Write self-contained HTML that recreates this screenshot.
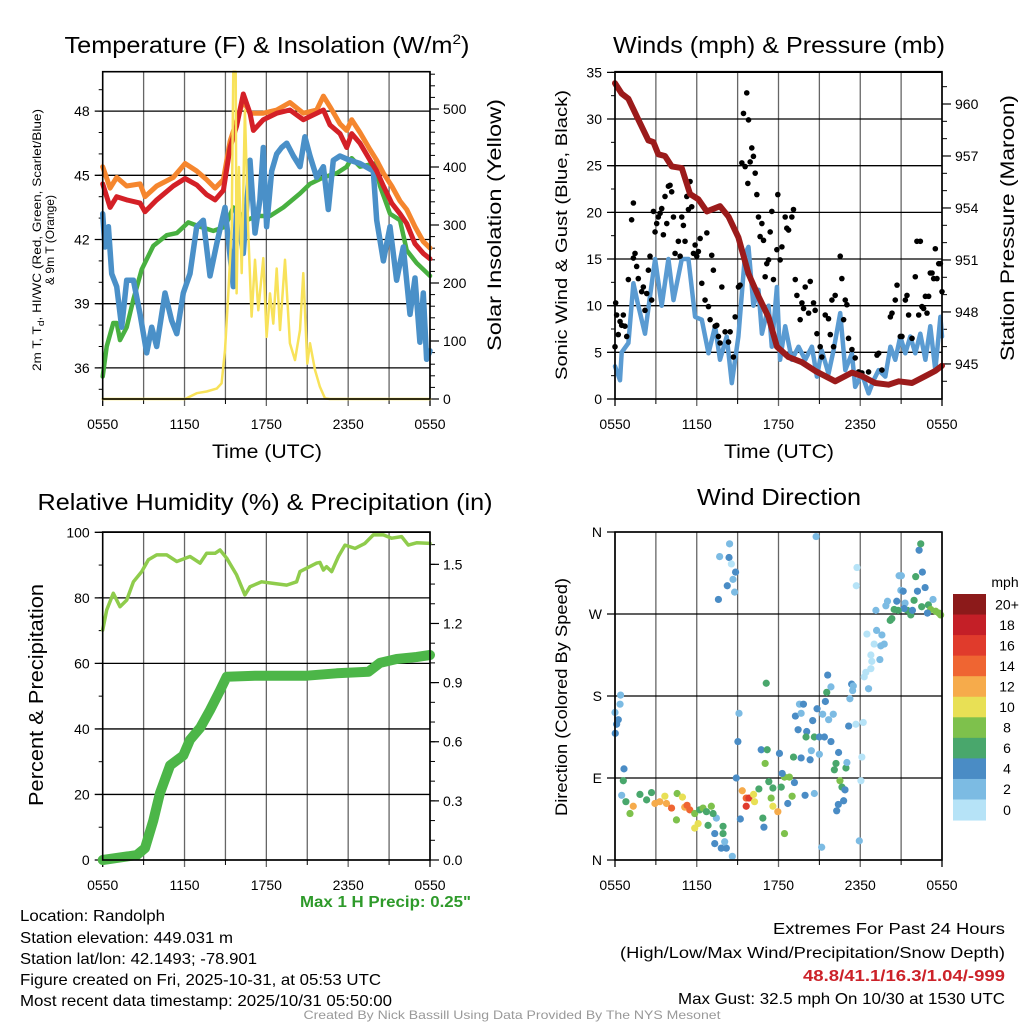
<!DOCTYPE html>
<html><head><meta charset="utf-8"><style>
html,body{margin:0;padding:0;background:#fff}
svg{display:block;font-family:"Liberation Sans",sans-serif}
</style></head><body>
<svg id="fig" width="1024" height="1024" viewBox="0 0 1024 1024" xmlns="http://www.w3.org/2000/svg">
<rect width="1024" height="1024" fill="#fff"/>
<g id="p1"></g>
<g id="p2"></g>
<g id="p3"></g>
<g id="p4"></g>
<g font-size="23" text-anchor="middle" fill="#000">
<text x="267" y="53" textLength="405" lengthAdjust="spacingAndGlyphs">Temperature (F) &amp; Insolation (W/m<tspan dy="-9" font-size="14">2</tspan><tspan dy="9">)</tspan></text>
<text x="779" y="53" textLength="332" lengthAdjust="spacingAndGlyphs">Winds (mph) &amp; Pressure (mb)</text>
<text x="265" y="510" textLength="455" lengthAdjust="spacingAndGlyphs">Relative Humidity (%) &amp; Precipitation (in)</text>
<text x="779" y="505" textLength="164" lengthAdjust="spacingAndGlyphs">Wind Direction</text>
</g>
<g font-size="19" text-anchor="middle">
<text x="267" y="458" textLength="110" lengthAdjust="spacingAndGlyphs">Time (UTC)</text>
<text x="779" y="458" textLength="110" lengthAdjust="spacingAndGlyphs">Time (UTC)</text>
<text transform="translate(501,225) rotate(-90)" textLength="252" lengthAdjust="spacingAndGlyphs">Solar Insolation (Yellow)</text>
<text transform="translate(567,235) rotate(-90)" font-size="17" textLength="290" lengthAdjust="spacingAndGlyphs">Sonic Wind &amp; Gust (Blue, Black)</text>
<text transform="translate(1014,228) rotate(-90)" textLength="266" lengthAdjust="spacingAndGlyphs">Station Pressure (Maroon)</text>
<text transform="translate(43,695) rotate(-90)" font-size="20" textLength="222" lengthAdjust="spacingAndGlyphs">Percent &amp; Precipitation</text>
<text transform="translate(567,697) rotate(-90)" font-size="17" textLength="238" lengthAdjust="spacingAndGlyphs">Direction (Colored By Speed)</text>
<text transform="translate(41,240) rotate(-90)" font-size="12" textLength="262" lengthAdjust="spacingAndGlyphs">2m T, T<tspan dy="3" font-size="9">d</tspan><tspan dy="-3">, HI/WC (Red, Green, Scarlet/Blue)</tspan></text>
<text transform="translate(54,240) rotate(-90)" font-size="12" textLength="90" lengthAdjust="spacingAndGlyphs">&amp; 9m T (Orange)</text>
</g>
<text x="300" y="907" font-size="16" font-weight="bold" fill="#2e9a2a" textLength="171" lengthAdjust="spacingAndGlyphs">Max 1 H Precip: 0.25"</text>
<g font-size="16" fill="#000">
<text x="20" y="921" textLength="145" lengthAdjust="spacingAndGlyphs">Location: Randolph</text>
<text x="20" y="943" textLength="213" lengthAdjust="spacingAndGlyphs">Station elevation: 449.031 m</text>
<text x="20" y="964" textLength="237" lengthAdjust="spacingAndGlyphs">Station lat/lon: 42.1493; -78.901</text>
<text x="20" y="985" textLength="361" lengthAdjust="spacingAndGlyphs">Figure created on Fri, 2025-10-31, at 05:53 UTC</text>
<text x="20" y="1006" textLength="372" lengthAdjust="spacingAndGlyphs">Most recent data timestamp: 2025/10/31 05:50:00</text>
<text x="1005" y="934" text-anchor="end" textLength="232" lengthAdjust="spacingAndGlyphs">Extremes For Past 24 Hours</text>
<text x="1005" y="958" text-anchor="end" textLength="385" lengthAdjust="spacingAndGlyphs">(High/Low/Max Wind/Precipitation/Snow Depth)</text>
<text x="1005" y="981" text-anchor="end" font-weight="bold" fill="#cc2229" textLength="202" lengthAdjust="spacingAndGlyphs">48.8/41.1/16.3/1.04/-999</text>
<text x="1005" y="1004" text-anchor="end" textLength="327" lengthAdjust="spacingAndGlyphs">Max Gust: 32.5 mph On 10/30 at 1530 UTC</text>
</g>
<text x="512" y="1019" font-size="12" fill="#999" text-anchor="middle" textLength="417" lengthAdjust="spacingAndGlyphs">Created By Nick Bassill Using Data Provided By The NYS Mesonet</text>
</svg>
<script>
// ---------- DATA ----------
const timeLabels = ["0550","1150","1750","2350","0550"];
// Panel 1
const orangeT_h = [0,.54,1.03,1.76,2.74,3.1,3.96,5.18,6.04,6.89,7.62,8.24,8.85,9.34,10.31,10.8,11.78,12.76,13.73,14.71,15.69,16.18,16.67,17.4,17.89,18.26,18.87,19.6,20.09,20.58,21.19,21.8,22.29,22.9,23.51,24];
const orangeT_v = [45.4,44.4,44.9,44.5,44.6,44.0,44.5,44.9,45.55,45.2,44.8,44.4,44.8,46.6,48.5,47.9,47.9,48.05,48.4,47.9,48.05,48.7,48.2,47.4,47.1,47.6,47.0,46.2,45.7,45.1,44.5,43.8,43.4,42.6,41.9,41.6];
const redT_h = [0,.54,1.03,1.76,2.74,3.1,3.96,5.18,6.04,6.89,7.62,8.24,8.85,9.34,9.82,10.31,10.8,11.05,11.78,12.76,13.73,14.71,15.69,16.18,16.67,17.4,17.89,18.26,18.87,19.6,20.09,20.58,21.19,21.8,22.29,22.9,23.51,24];
const redT_v = [44.6,43.5,44.0,43.85,43.7,43.3,43.85,44.5,44.85,44.55,44.1,43.85,44.3,46.3,47.3,48.8,47.9,47.1,47.6,47.9,48.05,47.6,47.9,48.05,47.35,46.95,46.3,46.95,46.5,45.7,45.2,44.5,43.7,43.2,42.75,41.8,41.35,41.1];
const dew_h = [0,.29,.78,1.03,1.27,1.76,2.25,2.86,3.71,4.69,5.43,6.28,7.14,8.11,8.97,9.58,10.56,11.29,12.27,13.25,14.47,15.2,16.18,17.16,17.89,18.26,18.87,19.97,20.33,21.07,21.8,22.29,23.02,24];
const dew_v = [35.6,37.0,38.1,38.1,37.3,37.9,39.2,40.6,41.7,42.2,42.3,42.8,42.6,42.4,42.6,43.5,42.9,43.1,43.1,43.5,44.15,44.6,44.9,45.1,45.4,45.8,45.4,45.55,44.5,43.2,42.9,41.5,40.9,40.3];
const blueT_h = [0,.17,.42,.66,1.03,1.39,1.76,2.25,2.74,3.23,3.59,3.96,4.57,5.06,5.43,5.91,6.4,6.89,7.38,7.87,8.36,8.97,9.21,9.58,9.82,10.31,10.8,11.17,11.53,11.78,12.02,12.39,12.76,13.12,13.49,13.98,14.47,14.83,15.2,15.69,16.18,16.54,16.91,17.4,18.13,18.87,19.84,20.09,20.58,21.07,21.55,22.04,22.53,22.9,23.26,23.51,23.75,24];
const blueT_v = [43.2,41.65,42.6,40.4,39.8,37.9,40.1,40.1,38.5,36.7,37.9,37.0,39.5,38.2,37.6,39.5,40.4,42.6,42.9,40.3,41.8,43.5,42.0,39.8,43.4,41.35,45.7,42.3,43.85,46.3,42.6,45.2,46.0,46.3,46.5,45.9,45.4,46.8,45.9,44.9,45.4,43.4,45.7,45.9,45.7,45.55,45.2,42.9,41.0,42.6,40.1,41.65,38.5,40.2,37.2,39.5,36.4,36.8];
const solar_h = [0,6.04,6.89,7.62,8.36,8.72,8.97,9.21,9.46,9.58,9.75,9.82,9.99,10.19,10.43,10.68,10.92,11.17,11.41,11.78,12.02,12.27,12.51,12.76,13.0,13.37,13.73,14.1,14.47,14.71,15.0,15.2,15.57,15.93,16.3,16.67,24];
const solar_v = [0,0,10,13,18,27,84,182,297,570,570,182,400,217,498,286,142,240,153,243,107,182,130,225,119,240,96,67,119,217,61,96,50,21,1,0,0];
// Panel 2
const wind_h = [0,.37,.49,.98,1.35,1.71,2.2,2.57,2.94,3.43,3.92,4.29,4.9,5.39,5.88,6.37,6.86,7.35,7.71,8.2,8.57,9.06,9.55,9.8,10.16,10.53,10.78,11.27,11.51,11.88,12.12,12.49,12.98,13.47,13.96,14.45,14.82,15.18,15.67,16.04,16.53,16.9,17.39,17.63,18.12,18.61,18.98,19.35,19.84,20.21,20.57,20.94,21.31,21.67,22.04,22.41,22.78,23.14,23.51,23.88,24];
const wind_v = [3.5,2,5,6,12.4,10,7,11,15,10,15,10.6,15,15,8.8,8.5,4.9,7.8,4.2,6.7,1.7,6.7,15.6,16.3,10,11.7,7,10,5.6,12,4.2,7.8,4.2,5.6,4.2,5.6,2.4,5.2,2.7,5.2,9.2,3.1,4.9,1.3,2.7,0.6,2,3.1,2.4,5.6,4.2,6.7,4.9,6.7,4.9,7,4.2,7.8,3.1,8.8,6.7];
const gust_h = [0,.05,.12,.24,.37,.49,.61,.73,.86,.98,1.22,1.35,1.35,1.47,1.59,1.71,1.96,2.08,2.2,2.33,2.45,2.57,2.69,2.82,2.94,3.06,3.18,3.31,3.43,3.55,3.67,3.8,3.92,4.04,4.16,4.29,4.41,4.65,4.78,4.9,5.02,5.14,5.27,5.39,5.51,5.63,5.76,5.88,6.0,6.12,6.25,6.37,6.61,6.74,6.86,6.98,7.1,7.22,7.35,7.47,7.59,7.71,7.84,8.08,8.33,8.45,8.69,8.82,9.06,9.18,9.31,9.43,9.55,9.67,9.75,9.8,9.92,10.04,10.16,10.29,10.41,10.53,10.65,10.78,10.9,11.02,11.14,11.27,11.39,11.51,11.63,11.88,11.95,12.12,12.25,12.49,12.61,12.74,12.98,13.1,13.23,13.35,13.59,13.72,13.84,13.96,14.21,14.33,14.57,14.69,14.82,15.06,15.18,15.43,15.67,15.8,15.92,16.04,16.16,16.53,16.65,16.78,16.9,17.02,17.14,17.39,17.63,17.88,18.12,18.61,19.23,19.35,19.59,20.21,20.33,20.57,20.7,20.94,21.06,21.31,21.43,21.55,21.8,22.04,22.16,22.41,22.29,22.53,22.65,22.78,22.9,23.02,23.14,23.27,23.39,23.51,23.63,23.76,23.88,24];
const gust_v = [5.6,10.3,9.0,6.9,8.3,7.9,9.0,7.8,6.7,12.8,19.2,21.0,15.1,15.6,14.2,12.9,11.5,12.0,9.5,11.3,13.8,15.3,10.6,20.1,17.9,18.8,19.5,19.9,20.4,17.6,21.7,18.8,22.8,22.9,22.2,19.5,15.6,16.9,15.3,19.5,18.6,16.9,21.7,20.3,23.3,20.6,15.6,16.5,15.3,15.8,17.2,12.4,10.6,17.8,9.9,8.5,15.4,13.8,7.8,7.9,6.7,6.0,12.0,7.2,6.1,7.2,4.5,8.8,12.0,12.2,25.3,30.6,24.9,32.8,23.1,29.9,25.4,26.9,26.0,24.2,21.9,19.5,17.4,18.8,17.0,13.1,14.5,14.9,17.9,20.1,12.8,16.0,21.9,14.9,16.3,19.5,18.3,18.1,19.5,20.3,12.8,11.1,8.5,10.3,9.7,12.0,9.2,12.6,10.3,9.5,7.0,5.6,4.5,9.0,8.6,6.9,10.6,5.6,11.1,15.3,12.9,8.5,10.6,10.1,6.5,5.3,4.4,2.9,2.8,2.9,4.7,4.9,3.1,8.8,9.2,10.6,12.2,6.7,6.7,10.6,11.1,9.0,6.5,13.1,16.9,16.9,9.0,9.9,9.7,11.0,9.2,11.0,13.5,13.5,12.9,16.1,12.9,14.5,14.5,11.5];
const pres_h = [0,.49,.98,1.71,2.45,2.82,3.18,3.67,4.16,4.9,5.51,6.12,6.74,7.71,8.33,9.06,9.8,10.53,11.27,11.88,12.73,13.71,14.69,15.67,16.16,17.39,18.12,19.1,20.08,20.82,21.8,22.78,23.51,24];
const pres_v = [961.2,960.6,960.3,959.1,957.9,957.8,957.1,957.0,956.4,956.3,954.8,954.5,953.8,954.1,953.5,952.3,950.2,948.9,947.7,946.0,945.4,945.1,944.6,944.2,944.0,944.5,944.3,943.9,943.8,944.0,943.9,944.3,944.6,944.9];
// Panel 3
const rh_h = [0,.29,.78,1.27,1.76,2.25,2.86,3.35,3.96,4.69,5.43,6.4,7.14,7.62,8.24,8.6,9.09,9.82,10.43,10.8,11.66,12.51,13.49,14.22,14.47,15.69,15.93,16.18,16.42,16.79,17.28,17.77,18.5,19.23,19.84,20.58,21.19,21.92,22.41,23.02,24];
const rh_v = [70.2,76.3,81.4,77.3,79.3,84.9,88,91.6,93.1,93.1,91.1,92.6,90.6,93.6,93.6,94.6,92.1,87,80.9,83.4,84.9,84.4,83.9,84.9,88,90.6,90.8,88.5,89.5,88,92.6,96.1,95.1,96.6,99.2,99.2,98.2,98.7,96.1,96.8,96.6];
const precip_h = [0,2.49,3.1,3.71,4.2,4.94,5.91,6.4,7.14,7.87,8.6,9.09,11.29,14.96,17.16,19.48,20.33,21.55,23.02,24];
const precip_v = [0,0.025,0.06,0.2,0.34,0.48,0.53,0.61,0.67,0.76,0.86,0.93,0.935,0.935,0.947,0.955,1.0,1.02,1.03,1.04];
// Panel 4
const dir_h = [.41,.37,0,.24,.12,.02,.66,.61,.49,.8,1.34,1.1,1.83,2.32,2.68,2.93,3.29,3.66,3.78,4.15,4.56,4.95,4.51,5.12,5.49,5.29,5.85,6.22,6.46,6.71,7.07,5.85,6.1,6.83,7.44,7.93,7.32,7.93,7.32,7.8,8.17,8.05,8.61,7.2,8.41,7.68,8.37,8.54,8.85,8.66,8.24,8.78,7.59,9.1,9.02,8.9,9.34,9.63,9.63,9.83,10.17,10.24,9.2,10.56,10.73,11.17,11.02,11.1,11.29,11.59,11.46,11.59,11.95,12.2,12.44,12.8,13,12.44,10.93,10.85,12.07,12.27,12.68,13.17,13.1,13.66,13.54,13.24,13.66,13.83,13.44,14.07,14.02,14.32,14.41,14.51,14.63,15,14.83,15,15.24,15.44,15.68,15.61,15.54,15.85,15.85,16.02,15.37,14.76,14.63,15.17,13.95,16.41,16.22,16.1,16.95,17.02,16.51,16.66,16.88,16.78,16.39,16.27,17.15,17.24,17.37,17.49,17.44,17.68,18.22,18.12,18.05,17.93,17.76,17.71,18.29,18.41,18.61,18.78,18.85,18.78,19.02,19.44,19.51,19.76,19.2,19.59,19.15,18.49,19.88,20,20.2,20.32,20.49,20.68,20.85,21.02,20.98,21.15,21.29,21.46,21.71,21.95,22.07,22.2,22.32,22.44,22.56,22.76,22.51,23,23.17,22.93,23.34,23.54,23.78,23.9,21.83,21.22,20.78];
const dir_v = [181,171,162,154,149,139,100,87,71,64,59,51,72,66,74,62,64,70,62,57,73,69,44,58,55,60,51,55,57,53,59,35,40,38,46,37,29,29,18,13,13,20,4,51,347,333,332,325,316,308,301,294,286,161,130,90,76,68,59,68,72,64,45,78,121,121,106,194,86,79,68,59,53,80,91,91,70,29,36,46,117,95,62,85,113,112,171,158,161,171,143,141,135,110,120,153,135,135,166,116,160,174,154,203,184,190,130,160,135,355,73,14,71,118,106,99,101,107,87,80,77,65,61,54,147,177,193,191,186,149,151,113,87,21,321,301,201,206,188,210,218,225,237,220,235,237,252,247,274,248,279,284,263,265,275,284,312,312,296,295,282,274,269,285,311,295,340,347,316,299,278,280,275,271,286,273,271,269,274,276,274];
const dir_s = [2,2,2,4,4,4,4,6,2,6,12,8,6,6,6,12,12,10,12,14,8,10,8,12,14,14,8,6,8,6,8,10,10,6,2,6,4,6,4,4,4,2,2,6,2,2,4,0,4,2,4,2,4,2,4,4,12,14,16,16,10,10,4,6,4,6,8,6,6,6,8,10,12,6,8,8,8,8,4,6,4,4,4,4,6,4,2,4,2,4,4,4,6,4,2,4,6,4,4,2,2,4,2,4,6,2,4,2,4,2,2,2,4,4,6,6,6,2,8,6,4,4,4,4,4,2,4,2,2,0,0,0,0,2,0,0,0,0,2,0,0,0,0,2,2,2,2,2,2,0,2,2,6,6,6,4,2,2,2,4,2,6,6,6,6,4,4,6,4,4,6,6,8,4,2,8,8,8,4,4,6];
const speedColors = ["#b6e3f7","#7cbbe3","#4a8cc5","#49a76c","#7ec14c","#e8e055","#f6ab4b","#ef6532","#e03b2c","#c41f27","#8c1a1a"];
const speedLabels = ["0","2","4","6","8","10","12","14","16","18","20+"];

// ---------- helpers ----------
const NS = "http://www.w3.org/2000/svg";
function mk(tag, parent){const e=document.createElementNS(NS,tag);parent.appendChild(e);return e;}
function at(e,o){for(const k in o)e.setAttribute(k,o[k]);return e;}
function pathD(hs,vs,fx,fy){let d="";for(let i=0;i<hs.length;i++){d+=(i?"L":"M")+fx(hs[i]).toFixed(1)+","+fy(vs[i]).toFixed(1);}return d;}

function panel(g,x0,x1,y0,y1){
  for(let h=0;h<=24;h+=3){
    const x=x0+h/24*(x1-x0);
    const l=mk("line",g);
    at(l,{x1:x,x2:x,y1:y0,y2:y1+ (h%6===0?7:0),stroke:(h===0||h===24)?"#000":"#666","stroke-width":1.3});
    
    
    if(h%6===0){
      const t=mk("text",g);
      at(t,{x:x,y:y1+30,"font-size":14,"text-anchor":"middle"});
      t.textContent=timeLabels[h/6];
      
      
    } else {
      const tk=mk("line",g);
      at(tk,{x1:x,x2:x,y1:y1,y2:y1+5,stroke:"#000","stroke-width":1});
      
      
    }
  }
}
function leftAxis(g,x0,x1,ticks,labels,fy,minor,gridColor){
  minor.forEach(v=>{const l=mk("line",g);at(l,{x1:x0-4,x2:x0,y1:fy(v),y2:fy(v),stroke:"#000","stroke-width":1});
    
    });
  ticks.forEach((v,i)=>{
    const l=mk("line",g);at(l,{x1:x0-8,x2:x1,y1:fy(v),y2:fy(v),stroke:gridColor||"#000","stroke-width":1.3});
    
    
    const t=mk("text",g);at(t,{x:x0-13,y:fy(v)+5,"font-size":14,"text-anchor":"end"});
    t.textContent=labels[i];
    
    
  });
}
function rightAxis(g,x1,ticks,labels,fy,minor){
  minor.forEach(v=>{const l=mk("line",g);at(l,{x1:x1,x2:x1+5,y1:fy(v),y2:fy(v),stroke:"#000","stroke-width":1});
    
    });
  ticks.forEach((v,i)=>{
    const l=mk("line",g);at(l,{x1:x1,x2:x1+9,y1:fy(v),y2:fy(v),stroke:"#000","stroke-width":1.2});
    
    
    const t=mk("text",g);at(t,{x:x1+13,y:fy(v)+5,"font-size":14,"text-anchor":"start"});
    t.textContent=labels[i];
    
    
  });
}
function frame(g,x0,x1,y0,y1){
  const r=mk("rect",g);at(r,{x:x0,y:y0,width:x1-x0,height:y1-y0,fill:"none",stroke:"#000","stroke-width":1.6});
  
  
}
function line(g,hs,vs,fx,fy,color,w,name){
  const p=mk("path",g);at(p,{d:pathD(hs,vs,fx,fy),fill:"none",stroke:color,"stroke-width":w,"stroke-linejoin":"round","stroke-linecap":"round"});
  
  
  return p;
}
function range(a,b,s){const r=[];for(let v=a;v<=b+1e-9;v+=s)r.push(+v.toFixed(4));return r;}

// ---------- Panel 1 ----------
(function(){
  const g=document.getElementById("p1");
  const x0=102.7,x1=430,y0=71.7,y1=399;
  const fx=h=>x0+h/24*(x1-x0);
  const fy=t=>175.3+(45-t)*21.4;
  const fs=s=>Math.max(y0,399-s*0.58);
  panel(g,x0,x1,y0,y1);
  leftAxis(g,x0,x1,[36,39,42,45,48],["36","39","42","45","48"],fy,range(35,49,1));
  rightAxis(g,x1,[0,100,200,300,400,500],["0","100","200","300","400","500"],s=>399-s*0.58,range(0,560,20));
  line(g,dew_h,dew_v,fx,fy,"#48b040",4.5,"dewpoint-line");
  line(g,blueT_h,blueT_v,fx,fy,"#4a90c8",5.5,"heat-index-line");
  line(g,orangeT_h,orangeT_v,fx,fy,"#f5862e",5,"temp-9m-line");
  line(g,redT_h,redT_v,fx,fy,"#d42027",5,"temp-2m-line");
  line(g,solar_h,solar_v,fx,fs,"#f8e25a",2.5,"solar-line");
  frame(g,x0,x1,y0,y1);
})();

// ---------- Panel 2 ----------
(function(){
  const g=document.getElementById("p2");
  const x0=615,x1=942,y0=71.7,y1=399;
  const fx=h=>x0+h/24*(x1-x0);
  const fw=w=>399-w*9.333;
  const fp=p=>104+(960-p)*17.33;
  panel(g,x0,x1,y0,y1);
  leftAxis(g,x0,x1,range(0,35,5),["0","5","10","15","20","25","30","35"],fw,range(0,35,2.5));
  rightAxis(g,x1,[945,948,951,954,957,960],["945","948","951","954","957","960"],fp,range(944,961,1));
  line(g,wind_h,wind_v,fx,fw,"#5a9bd2",4.5,"sonic-wind-line");
  gust_h.forEach((h,i)=>{
    const c=mk("circle",g);at(c,{cx:fx(h),cy:fw(gust_v[i]),r:2.8,fill:"#000"});
    
    
  });
  line(g,pres_h,pres_v,fx,fp,"#9b1b1b",6,"pressure-line");
  frame(g,x0,x1,y0,y1);
})();

// ---------- Panel 3 ----------
(function(){
  const g=document.getElementById("p3");
  const x0=102.7,x1=430,y0=532,y1=860;
  const fx=h=>x0+h/24*(x1-x0);
  const fr=r=>860-r*3.277;
  const fp=p=>860-p*197.1;
  panel(g,x0,x1,y0,y1);
  leftAxis(g,x0,x1,range(0,100,20),["0","20","40","60","80","100"],fr,range(0,100,10));
  rightAxis(g,x1,range(0,1.5,.3),["0.0","0.3","0.6","0.9","1.2","1.5"],fp,range(0,1.6,.1));
  line(g,rh_h,rh_v,fx,fr,"#8fcc4c",3.5,"relative-humidity-line");
  line(g,precip_h,precip_v,fx,fp,"#4cb648",10,"precipitation-line");
  frame(g,x0,x1,y0,y1);
})();

// ---------- Panel 4 ----------
(function(){
  const g=document.getElementById("p4");
  const x0=615,x1=942,y0=532,y1=860;
  const fx=h=>x0+h/24*(x1-x0);
  const fd=d=>860-d*0.9111;
  panel(g,x0,x1,y0,y1);
  leftAxis(g,x0,x1,[0,90,180,270,360],["N","E","S","W","N"],fd,[]);
  dir_h.forEach((h,i)=>{
    const idx=Math.min(10,Math.round(dir_s[i]/2));
    const c=mk("circle",g);at(c,{cx:fx(h),cy:fd(dir_v[i]),r:3.6,fill:speedColors[idx]});
    
    
  });
  frame(g,x0,x1,y0,y1);
  const top=594,bh=20.55;
  const mph=mk("text",g);at(mph,{x:1005,y:587,"font-size":14,"text-anchor":"middle"});mph.textContent="mph";
  
  
  for(let i=0;i<11;i++){
    const k=10-i;
    const r=mk("rect",g);at(r,{x:953,y:top+i*bh,width:33,height:bh+0.5,fill:speedColors[k]});
    
    
    const t=mk("text",g);at(t,{x:1007,y:top+i*bh+bh/2+5,"font-size":14,"text-anchor":"middle"});
    t.textContent=speedLabels[k];
    
    
  }
})();
</script>
</body></html>
